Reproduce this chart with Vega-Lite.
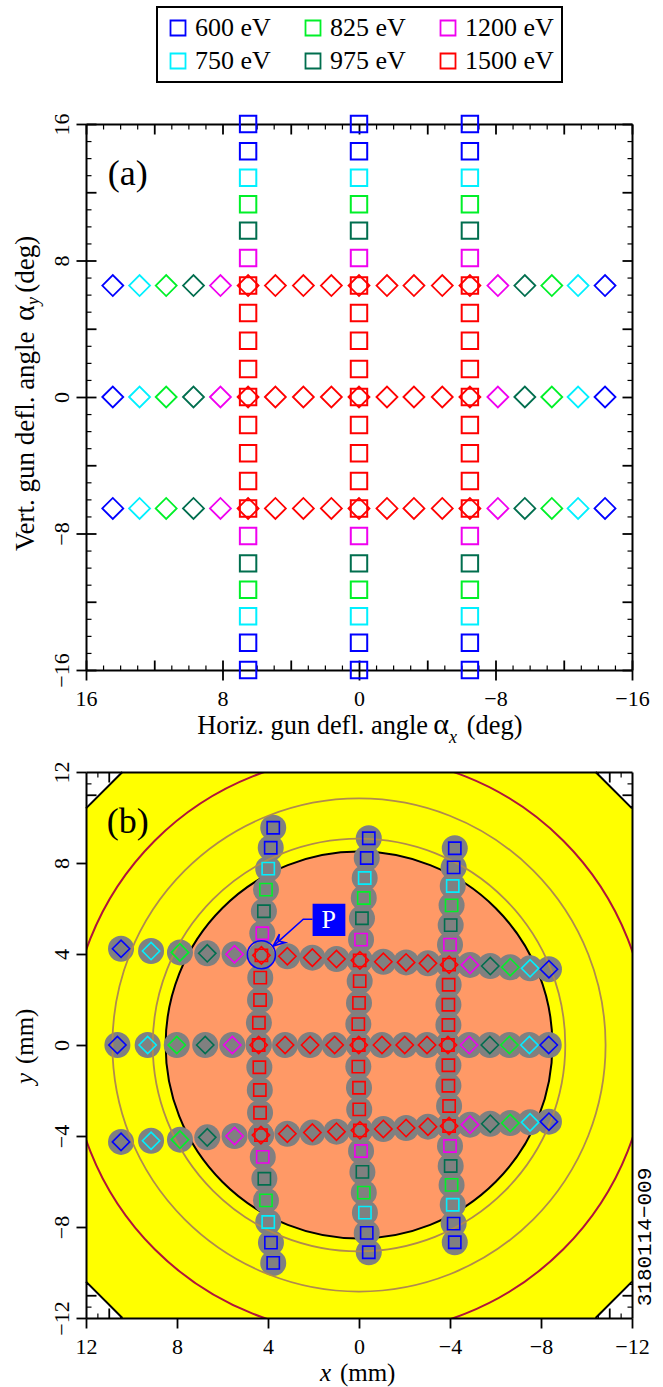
{"$schema":"https://vega.github.io/schema/vega-lite/v6.json","background":"white","padding":{"left":9,"top":6,"right":28,"bottom":4},"bounds":"flush","spacing":102,
"config":{"view":{"stroke":null},"legend":{"strokeWidth":2},"axis":{"labelFont":"Liberation Serif","labelFontSize":22,"labelColor":"black","tickColor":"black","domainColor":"black","grid":false,"title":null,"labelOverlap":false,"labelFlush":false,"labelBound":false,"domainWidth":2,"tickWidth":1.8,"tickRound":false},"text":{"font":"Liberation Serif","color":"black"}},
"datasets":{
"a":[
{"x":6.5,"y":16,"eV":"600 eV","m":"s"},{"x":6.5,"y":14.4,"eV":"600 eV","m":"s"},{"x":6.5,"y":12.85,"eV":"750 eV","m":"s"},{"x":6.5,"y":11.3,"eV":"825 eV","m":"s"},{"x":6.5,"y":9.75,"eV":"975 eV","m":"s"},{"x":6.5,"y":8.15,"eV":"1200 eV","m":"s"},{"x":6.5,"y":6.53,"eV":"1500 eV","m":"s"},{"x":6.5,"y":4.92,"eV":"1500 eV","m":"s"},{"x":6.5,"y":3.3,"eV":"1500 eV","m":"s"},{"x":6.5,"y":1.64,"eV":"1500 eV","m":"s"},{"x":6.5,"y":0,"eV":"1500 eV","m":"s"},{"x":6.5,"y":-1.64,"eV":"1500 eV","m":"s"},{"x":6.5,"y":-3.3,"eV":"1500 eV","m":"s"},{"x":6.5,"y":-4.92,"eV":"1500 eV","m":"s"},{"x":6.5,"y":-6.53,"eV":"1500 eV","m":"s"},{"x":6.5,"y":-8.15,"eV":"1200 eV","m":"s"},{"x":6.5,"y":-9.75,"eV":"975 eV","m":"s"},{"x":6.5,"y":-11.3,"eV":"825 eV","m":"s"},{"x":6.5,"y":-12.85,"eV":"750 eV","m":"s"},{"x":6.5,"y":-14.4,"eV":"600 eV","m":"s"},{"x":6.5,"y":-16,"eV":"600 eV","m":"s"},
{"x":0,"y":16,"eV":"600 eV","m":"s"},{"x":0,"y":14.4,"eV":"600 eV","m":"s"},{"x":0,"y":12.85,"eV":"750 eV","m":"s"},{"x":0,"y":11.3,"eV":"825 eV","m":"s"},{"x":0,"y":9.75,"eV":"975 eV","m":"s"},{"x":0,"y":8.15,"eV":"1200 eV","m":"s"},{"x":0,"y":6.53,"eV":"1500 eV","m":"s"},{"x":0,"y":4.92,"eV":"1500 eV","m":"s"},{"x":0,"y":3.3,"eV":"1500 eV","m":"s"},{"x":0,"y":1.64,"eV":"1500 eV","m":"s"},{"x":0,"y":0,"eV":"1500 eV","m":"s"},{"x":0,"y":-1.64,"eV":"1500 eV","m":"s"},{"x":0,"y":-3.3,"eV":"1500 eV","m":"s"},{"x":0,"y":-4.92,"eV":"1500 eV","m":"s"},{"x":0,"y":-6.53,"eV":"1500 eV","m":"s"},{"x":0,"y":-8.15,"eV":"1200 eV","m":"s"},{"x":0,"y":-9.75,"eV":"975 eV","m":"s"},{"x":0,"y":-11.3,"eV":"825 eV","m":"s"},{"x":0,"y":-12.85,"eV":"750 eV","m":"s"},{"x":0,"y":-14.4,"eV":"600 eV","m":"s"},{"x":0,"y":-16,"eV":"600 eV","m":"s"},
{"x":-6.5,"y":16,"eV":"600 eV","m":"s"},{"x":-6.5,"y":14.4,"eV":"600 eV","m":"s"},{"x":-6.5,"y":12.85,"eV":"750 eV","m":"s"},{"x":-6.5,"y":11.3,"eV":"825 eV","m":"s"},{"x":-6.5,"y":9.75,"eV":"975 eV","m":"s"},{"x":-6.5,"y":8.15,"eV":"1200 eV","m":"s"},{"x":-6.5,"y":6.53,"eV":"1500 eV","m":"s"},{"x":-6.5,"y":4.92,"eV":"1500 eV","m":"s"},{"x":-6.5,"y":3.3,"eV":"1500 eV","m":"s"},{"x":-6.5,"y":1.64,"eV":"1500 eV","m":"s"},{"x":-6.5,"y":0,"eV":"1500 eV","m":"s"},{"x":-6.5,"y":-1.64,"eV":"1500 eV","m":"s"},{"x":-6.5,"y":-3.3,"eV":"1500 eV","m":"s"},{"x":-6.5,"y":-4.92,"eV":"1500 eV","m":"s"},{"x":-6.5,"y":-6.53,"eV":"1500 eV","m":"s"},{"x":-6.5,"y":-8.15,"eV":"1200 eV","m":"s"},{"x":-6.5,"y":-9.75,"eV":"975 eV","m":"s"},{"x":-6.5,"y":-11.3,"eV":"825 eV","m":"s"},{"x":-6.5,"y":-12.85,"eV":"750 eV","m":"s"},{"x":-6.5,"y":-14.4,"eV":"600 eV","m":"s"},{"x":-6.5,"y":-16,"eV":"600 eV","m":"s"},
{"x":14.43,"y":6.53,"eV":"600 eV","m":"d"},{"x":12.86,"y":6.53,"eV":"750 eV","m":"d"},{"x":11.3,"y":6.53,"eV":"825 eV","m":"d"},{"x":9.7,"y":6.53,"eV":"975 eV","m":"d"},{"x":8.12,"y":6.53,"eV":"1200 eV","m":"d"},{"x":6.5,"y":6.53,"eV":"1500 eV","m":"d"},{"x":4.9,"y":6.53,"eV":"1500 eV","m":"d"},{"x":3.26,"y":6.53,"eV":"1500 eV","m":"d"},{"x":1.62,"y":6.53,"eV":"1500 eV","m":"d"},{"x":0,"y":6.53,"eV":"1500 eV","m":"d"},{"x":-1.64,"y":6.53,"eV":"1500 eV","m":"d"},{"x":-3.22,"y":6.53,"eV":"1500 eV","m":"d"},{"x":-4.88,"y":6.53,"eV":"1500 eV","m":"d"},{"x":-6.5,"y":6.53,"eV":"1500 eV","m":"d"},{"x":-8.14,"y":6.53,"eV":"1200 eV","m":"d"},{"x":-9.72,"y":6.53,"eV":"975 eV","m":"d"},{"x":-11.3,"y":6.53,"eV":"825 eV","m":"d"},{"x":-12.84,"y":6.53,"eV":"750 eV","m":"d"},{"x":-14.42,"y":6.53,"eV":"600 eV","m":"d"},
{"x":14.43,"y":0,"eV":"600 eV","m":"d"},{"x":12.86,"y":0,"eV":"750 eV","m":"d"},{"x":11.3,"y":0,"eV":"825 eV","m":"d"},{"x":9.7,"y":0,"eV":"975 eV","m":"d"},{"x":8.12,"y":0,"eV":"1200 eV","m":"d"},{"x":6.5,"y":0,"eV":"1500 eV","m":"d"},{"x":4.9,"y":0,"eV":"1500 eV","m":"d"},{"x":3.26,"y":0,"eV":"1500 eV","m":"d"},{"x":1.62,"y":0,"eV":"1500 eV","m":"d"},{"x":0,"y":0,"eV":"1500 eV","m":"d"},{"x":-1.64,"y":0,"eV":"1500 eV","m":"d"},{"x":-3.22,"y":0,"eV":"1500 eV","m":"d"},{"x":-4.88,"y":0,"eV":"1500 eV","m":"d"},{"x":-6.5,"y":0,"eV":"1500 eV","m":"d"},{"x":-8.14,"y":0,"eV":"1200 eV","m":"d"},{"x":-9.72,"y":0,"eV":"975 eV","m":"d"},{"x":-11.3,"y":0,"eV":"825 eV","m":"d"},{"x":-12.84,"y":0,"eV":"750 eV","m":"d"},{"x":-14.42,"y":0,"eV":"600 eV","m":"d"},
{"x":14.43,"y":-6.53,"eV":"600 eV","m":"d"},{"x":12.86,"y":-6.53,"eV":"750 eV","m":"d"},{"x":11.3,"y":-6.53,"eV":"825 eV","m":"d"},{"x":9.7,"y":-6.53,"eV":"975 eV","m":"d"},{"x":8.12,"y":-6.53,"eV":"1200 eV","m":"d"},{"x":6.5,"y":-6.53,"eV":"1500 eV","m":"d"},{"x":4.9,"y":-6.53,"eV":"1500 eV","m":"d"},{"x":3.26,"y":-6.53,"eV":"1500 eV","m":"d"},{"x":1.62,"y":-6.53,"eV":"1500 eV","m":"d"},{"x":0,"y":-6.53,"eV":"1500 eV","m":"d"},{"x":-1.64,"y":-6.53,"eV":"1500 eV","m":"d"},{"x":-3.22,"y":-6.53,"eV":"1500 eV","m":"d"},{"x":-4.88,"y":-6.53,"eV":"1500 eV","m":"d"},{"x":-6.5,"y":-6.53,"eV":"1500 eV","m":"d"},{"x":-8.14,"y":-6.53,"eV":"1200 eV","m":"d"},{"x":-9.72,"y":-6.53,"eV":"975 eV","m":"d"},{"x":-11.3,"y":-6.53,"eV":"825 eV","m":"d"},{"x":-12.84,"y":-6.53,"eV":"750 eV","m":"d"},{"x":-14.42,"y":-6.53,"eV":"600 eV","m":"d"}
],
"b":[
{"x":3.77,"y":9.55,"eV":"600 eV","m":"s"},{"x":3.88,"y":8.67,"eV":"600 eV","m":"s"},{"x":3.99,"y":7.75,"eV":"750 eV","m":"s"},{"x":4.09,"y":6.83,"eV":"825 eV","m":"s"},{"x":4.18,"y":5.88,"eV":"975 eV","m":"s"},{"x":4.25,"y":4.91,"eV":"1200 eV","m":"s"},{"x":4.29,"y":3.94,"eV":"1500 eV","m":"s"},{"x":4.34,"y":2.96,"eV":"1500 eV","m":"s"},{"x":4.35,"y":1.98,"eV":"1500 eV","m":"s"},{"x":4.4,"y":0.98,"eV":"1500 eV","m":"s"},{"x":4.41,"y":0,"eV":"1500 eV","m":"s"},{"x":4.38,"y":-0.98,"eV":"1500 eV","m":"s"},{"x":4.36,"y":-1.98,"eV":"1500 eV","m":"s"},{"x":4.35,"y":-2.98,"eV":"1500 eV","m":"s"},{"x":4.31,"y":-3.96,"eV":"1500 eV","m":"s"},{"x":4.23,"y":-4.92,"eV":"1200 eV","m":"s"},{"x":4.16,"y":-5.88,"eV":"975 eV","m":"s"},{"x":4.09,"y":-6.83,"eV":"825 eV","m":"s"},{"x":3.99,"y":-7.78,"eV":"750 eV","m":"s"},{"x":3.87,"y":-8.69,"eV":"600 eV","m":"s"},{"x":3.77,"y":-9.58,"eV":"600 eV","m":"s"},
{"x":-0.43,"y":9.09,"eV":"600 eV","m":"s"},{"x":-0.34,"y":8.22,"eV":"600 eV","m":"s"},{"x":-0.25,"y":7.34,"eV":"750 eV","m":"s"},{"x":-0.21,"y":6.46,"eV":"825 eV","m":"s"},{"x":-0.13,"y":5.57,"eV":"975 eV","m":"s"},{"x":-0.09,"y":4.63,"eV":"1200 eV","m":"s"},{"x":-0.03,"y":3.72,"eV":"1500 eV","m":"s"},{"x":-0.03,"y":2.81,"eV":"1500 eV","m":"s"},{"x":0,"y":1.85,"eV":"1500 eV","m":"s"},{"x":0.03,"y":0.92,"eV":"1500 eV","m":"s"},{"x":0.01,"y":0,"eV":"1500 eV","m":"s"},{"x":0.03,"y":-0.95,"eV":"1500 eV","m":"s"},{"x":0,"y":-1.88,"eV":"1500 eV","m":"s"},{"x":-0.01,"y":-2.83,"eV":"1500 eV","m":"s"},{"x":-0.04,"y":-3.75,"eV":"1500 eV","m":"s"},{"x":-0.09,"y":-4.66,"eV":"1200 eV","m":"s"},{"x":-0.15,"y":-5.58,"eV":"975 eV","m":"s"},{"x":-0.21,"y":-6.49,"eV":"825 eV","m":"s"},{"x":-0.26,"y":-7.37,"eV":"750 eV","m":"s"},{"x":-0.34,"y":-8.26,"eV":"600 eV","m":"s"},{"x":-0.43,"y":-9.11,"eV":"600 eV","m":"s"},
{"x":-4.21,"y":8.65,"eV":"600 eV","m":"s"},{"x":-4.16,"y":7.81,"eV":"600 eV","m":"s"},{"x":-4.12,"y":6.99,"eV":"750 eV","m":"s"},{"x":-4.07,"y":6.14,"eV":"825 eV","m":"s"},{"x":-4.03,"y":5.27,"eV":"975 eV","m":"s"},{"x":-4,"y":4.41,"eV":"1200 eV","m":"s"},{"x":-3.96,"y":3.53,"eV":"1500 eV","m":"s"},{"x":-3.94,"y":2.65,"eV":"1500 eV","m":"s"},{"x":-3.93,"y":1.77,"eV":"1500 eV","m":"s"},{"x":-3.93,"y":0.88,"eV":"1500 eV","m":"s"},{"x":-3.91,"y":0,"eV":"1500 eV","m":"s"},{"x":-3.93,"y":-0.89,"eV":"1500 eV","m":"s"},{"x":-3.93,"y":-1.79,"eV":"1500 eV","m":"s"},{"x":-3.96,"y":-2.68,"eV":"1500 eV","m":"s"},{"x":-3.96,"y":-3.56,"eV":"1500 eV","m":"s"},{"x":-4,"y":-4.44,"eV":"1200 eV","m":"s"},{"x":-4.03,"y":-5.32,"eV":"975 eV","m":"s"},{"x":-4.07,"y":-6.15,"eV":"825 eV","m":"s"},{"x":-4.12,"y":-7.02,"eV":"750 eV","m":"s"},{"x":-4.16,"y":-7.85,"eV":"600 eV","m":"s"},{"x":-4.21,"y":-8.67,"eV":"600 eV","m":"s"},
{"x":10.46,"y":4.23,"eV":"600 eV","m":"d"},{"x":9.14,"y":4.13,"eV":"750 eV","m":"d"},{"x":7.87,"y":4.07,"eV":"825 eV","m":"d"},{"x":6.67,"y":4.03,"eV":"975 eV","m":"d"},{"x":5.47,"y":3.99,"eV":"1200 eV","m":"d"},{"x":4.29,"y":3.94,"eV":"1500 eV","m":"d"},{"x":3.15,"y":3.9,"eV":"1500 eV","m":"d"},{"x":2.05,"y":3.84,"eV":"1500 eV","m":"d"},{"x":0.99,"y":3.78,"eV":"1500 eV","m":"d"},{"x":-0.04,"y":3.72,"eV":"1500 eV","m":"d"},{"x":-1.07,"y":3.66,"eV":"1500 eV","m":"d"},{"x":-2.07,"y":3.63,"eV":"1500 eV","m":"d"},{"x":-3.03,"y":3.59,"eV":"1500 eV","m":"d"},{"x":-3.96,"y":3.53,"eV":"1500 eV","m":"d"},{"x":-4.88,"y":3.52,"eV":"1200 eV","m":"d"},{"x":-5.77,"y":3.47,"eV":"975 eV","m":"d"},{"x":-6.65,"y":3.42,"eV":"825 eV","m":"d"},{"x":-7.52,"y":3.37,"eV":"750 eV","m":"d"},{"x":-8.35,"y":3.33,"eV":"600 eV","m":"d"},
{"x":10.62,"y":0,"eV":"600 eV","m":"d"},{"x":9.29,"y":0,"eV":"750 eV","m":"d"},{"x":8.01,"y":0,"eV":"825 eV","m":"d"},{"x":6.76,"y":0,"eV":"975 eV","m":"d"},{"x":5.57,"y":0,"eV":"1200 eV","m":"d"},{"x":4.41,"y":0,"eV":"1500 eV","m":"d"},{"x":3.25,"y":0,"eV":"1500 eV","m":"d"},{"x":2.15,"y":0,"eV":"1500 eV","m":"d"},{"x":1.07,"y":0,"eV":"1500 eV","m":"d"},{"x":0.01,"y":0,"eV":"1500 eV","m":"d"},{"x":-1.01,"y":0,"eV":"1500 eV","m":"d"},{"x":-2.01,"y":0,"eV":"1500 eV","m":"d"},{"x":-2.99,"y":0,"eV":"1500 eV","m":"d"},{"x":-3.91,"y":0,"eV":"1500 eV","m":"d"},{"x":-4.84,"y":0,"eV":"1200 eV","m":"d"},{"x":-5.75,"y":0,"eV":"975 eV","m":"d"},{"x":-6.61,"y":0,"eV":"825 eV","m":"d"},{"x":-7.49,"y":0,"eV":"750 eV","m":"d"},{"x":-8.34,"y":0,"eV":"600 eV","m":"d"},
{"x":10.46,"y":-4.26,"eV":"600 eV","m":"d"},{"x":9.14,"y":-4.21,"eV":"750 eV","m":"d"},{"x":7.87,"y":-4.16,"eV":"825 eV","m":"d"},{"x":6.67,"y":-4.06,"eV":"975 eV","m":"d"},{"x":5.47,"y":-4,"eV":"1200 eV","m":"d"},{"x":4.31,"y":-3.96,"eV":"1500 eV","m":"d"},{"x":3.15,"y":-3.9,"eV":"1500 eV","m":"d"},{"x":2.05,"y":-3.85,"eV":"1500 eV","m":"d"},{"x":0.99,"y":-3.81,"eV":"1500 eV","m":"d"},{"x":-0.04,"y":-3.75,"eV":"1500 eV","m":"d"},{"x":-1.07,"y":-3.69,"eV":"1500 eV","m":"d"},{"x":-2.07,"y":-3.65,"eV":"1500 eV","m":"d"},{"x":-3.03,"y":-3.59,"eV":"1500 eV","m":"d"},{"x":-3.96,"y":-3.56,"eV":"1500 eV","m":"d"},{"x":-4.88,"y":-3.5,"eV":"1200 eV","m":"d"},{"x":-5.77,"y":-3.46,"eV":"975 eV","m":"d"},{"x":-6.65,"y":-3.43,"eV":"825 eV","m":"d"},{"x":-7.52,"y":-3.4,"eV":"750 eV","m":"d"},{"x":-8.35,"y":-3.37,"eV":"600 eV","m":"d"}
]},
"vconcat":[
{"width":546,"height":546,
"encoding":{"x":{"field":"x","type":"quantitative","scale":{"domain":[16,-16],"nice":false,"zero":false},"axis":null},"y":{"field":"y","type":"quantitative","scale":{"domain":[-16,16],"nice":false,"zero":false},"axis":null}},
"resolve":{"axis":{"x":"independent","y":"independent"}},
"layer":[
{"data":{"values":[{"x":0,"y":0}]},"mark":{"type":"point","opacity":0},"encoding":{
"x":{"field":"x","type":"quantitative","axis":{"orient":"bottom","values":[16,8,0,-8,-16],"tickSize":10,"labelPadding":8,"domain":true}},
"y":{"field":"y","type":"quantitative","axis":{"orient":"left","values":[16,8,0,-8,-16],"tickSize":10,"labelPadding":8,"labelAngle":-90,"labelAlign":"center","labelBaseline":"alphabetic","domain":true}}}},
{"data":{"values":[{"x":0,"y":0}]},"mark":{"type":"point","opacity":0},"encoding":{
"x":{"field":"x","type":"quantitative","axis":{"orient":"bottom","values":[16,12,8,4,0,-4,-8,-12,-16],"tickSize":-10,"labels":false,"domain":false}},
"y":{"field":"y","type":"quantitative","axis":{"orient":"left","values":[16,12,8,4,0,-4,-8,-12,-16],"tickSize":-10,"labels":false,"domain":false}}}},
{"data":{"values":[{"x":0,"y":0}]},"mark":{"type":"point","opacity":0},"encoding":{
"x":{"field":"x","type":"quantitative","axis":{"orient":"top","values":[16,12,8,4,0,-4,-8,-12,-16],"tickSize":-10,"labels":false,"domain":true}},
"y":{"field":"y","type":"quantitative","axis":{"orient":"right","values":[16,12,8,4,0,-4,-8,-12,-16],"tickSize":-10,"labels":false,"domain":true}}}},
{"data":{"values":[{"x":0,"y":0}]},"mark":{"type":"point","opacity":0},"encoding":{
"x":{"field":"x","type":"quantitative","axis":{"orient":"bottom","values":[15,14,13,11,10,9,7,6,5,3,2,1,-1,-2,-3,-5,-6,-7,-9,-10,-11,-13,-14,-15],"tickSize":-5,"tickWidth":1.2,"labels":false,"domain":false}},
"y":{"field":"y","type":"quantitative","axis":{"orient":"left","values":[15,14,13,11,10,9,7,6,5,3,2,1,-1,-2,-3,-5,-6,-7,-9,-10,-11,-13,-14,-15],"tickSize":-5,"tickWidth":1.2,"labels":false,"domain":false}}}},
{"data":{"values":[{"x":0,"y":0}]},"mark":{"type":"point","opacity":0},"encoding":{
"x":{"field":"x","type":"quantitative","axis":{"orient":"top","values":[15,14,13,11,10,9,7,6,5,3,2,1,-1,-2,-3,-5,-6,-7,-9,-10,-11,-13,-14,-15],"tickSize":-5,"tickWidth":1.2,"labels":false,"domain":false}},
"y":{"field":"y","type":"quantitative","axis":{"orient":"right","values":[15,14,13,11,10,9,7,6,5,3,2,1,-1,-2,-3,-5,-6,-7,-9,-10,-11,-13,-14,-15],"tickSize":-5,"tickWidth":1.2,"labels":false,"domain":false}}}},
{"data":{"name":"a"},"transform":[{"filter":"datum.m==='s'"}],"mark":{"type":"point","shape":"square","filled":false,"size":270,"strokeWidth":2,"opacity":1},"encoding":{"stroke":{"field":"eV","type":"nominal","scale":{"domain":["600 eV","750 eV","825 eV","975 eV","1200 eV","1500 eV"],"range":["#0000ff","#00f0ff","#00f028","#006e4e","#f000f0","#ff0000"]},"legend":{"orient":"none","legendX":71,"legendY":-117,"columns":3,"direction":"vertical","title":null,"symbolType":"square","symbolSize":225,"symbolStrokeWidth":1.8,"symbolFillColor":"transparent","labelFont":"Liberation Serif","labelFontSize":26,"labelColor":"black","labelOffset":4,"labelLimit":200,"rowPadding":7,"columnPadding":29,"padding":8,"strokeColor":"black"}}}},
{"data":{"name":"a"},"transform":[{"filter":"datum.m==='d'"}],"mark":{"type":"point","shape":"diamond","filled":false,"size":440,"strokeWidth":1.8,"opacity":1},"encoding":{"stroke":{"field":"eV","type":"nominal","legend":null}}},
{"data":{"values":[{"x":14.73,"y":12.43,"t":"(a)"}]},"mark":{"type":"text","fontSize":36,"align":"left","baseline":"alphabetic"},"encoding":{"text":{"field":"t"}}},
{"data":{"values":[{"x":9.48,"y":-19.75,"t":"Horiz. gun defl. angle"},{"x":-6.32,"y":-19.75,"t":"(deg)"}]},"mark":{"type":"text","fontSize":26.4,"align":"left","baseline":"alphabetic"},"encoding":{"text":{"field":"t"}}},
{"data":{"values":[{"x":-4.35,"y":-19.75,"t":"α"}]},"mark":{"type":"text","fontSize":30,"align":"left","baseline":"alphabetic"},"encoding":{"text":{"field":"t"}}},
{"data":{"values":[{"x":-5.28,"y":-20.26,"t":"x"}]},"mark":{"type":"text","fontSize":18,"fontStyle":"italic","align":"left","baseline":"alphabetic"},"encoding":{"text":{"field":"t"}}},
{"data":{"values":[{"x":19.06,"y":-9.03,"t":"Vert. gun defl. angle"},{"x":19.06,"y":6.11,"t":"(deg)"}]},"mark":{"type":"text","fontSize":27,"angle":270,"align":"left","baseline":"alphabetic"},"encoding":{"text":{"field":"t"}}},
{"data":{"values":[{"x":19.06,"y":4.45,"t":"α"}]},"mark":{"type":"text","fontSize":30,"angle":270,"align":"left","baseline":"alphabetic"},"encoding":{"text":{"field":"t"}}},
{"data":{"values":[{"x":18.77,"y":5.39,"t":"y"}]},"mark":{"type":"text","fontSize":18,"fontStyle":"italic","angle":270,"align":"left","baseline":"alphabetic"},"encoding":{"text":{"field":"t"}}}
]},
{"width":546,"height":546,
"encoding":{"x":{"field":"x","type":"quantitative","scale":{"domain":[12,-12],"nice":false,"zero":false},"axis":null},"y":{"field":"y","type":"quantitative","scale":{"domain":[-12,12],"nice":false,"zero":false},"axis":null}},
"resolve":{"axis":{"x":"independent","y":"independent"}},
"layer":[
{"data":{"values":[{"x":0,"y":0}]},"mark":{"type":"point","opacity":0},"encoding":{
"x":{"field":"x","type":"quantitative","axis":{"orient":"bottom","values":[12,8,4,0,-4,-8,-12],"tickSize":10,"labelPadding":8,"domain":true,"zindex":1}},
"y":{"field":"y","type":"quantitative","axis":{"orient":"left","values":[12,8,4,0,-4,-8,-12],"tickSize":10,"labelPadding":8,"labelAngle":-90,"labelAlign":"center","labelBaseline":"alphabetic","domain":true,"zindex":1}}}},
{"data":{"values":[{"x":0,"y":0}]},"mark":{"type":"point","opacity":0},"encoding":{
"x":{"field":"x","type":"quantitative","axis":{"orient":"top","ticks":false,"labels":false,"domain":true,"zindex":1,"values":[0]}},
"y":{"field":"y","type":"quantitative","axis":{"orient":"right","ticks":false,"labels":false,"domain":true,"zindex":1,"values":[0]}}}},
{"data":{"values":[{"x":0,"y":0}]},"mark":{"type":"point","opacity":0},"encoding":{
"x":{"field":"x","type":"quantitative","axis":{"orient":"bottom","values":[11,-11],"tickSize":-10,"labels":false,"domain":false}},
"y":{"field":"y","type":"quantitative","axis":{"orient":"left","values":[11,-11],"tickSize":-10,"labels":false,"domain":false}}}},
{"data":{"values":[{"x":0,"y":0}]},"mark":{"type":"point","opacity":0},"encoding":{
"x":{"field":"x","type":"quantitative","axis":{"orient":"top","values":[11,-11],"tickSize":-10,"labels":false,"domain":false}},
"y":{"field":"y","type":"quantitative","axis":{"orient":"right","values":[11,-11],"tickSize":-10,"labels":false,"domain":false}}}},
{"data":{"values":[{"x":0,"y":0}]},"mark":{"type":"point","opacity":0},"encoding":{
"x":{"field":"x","type":"quantitative","axis":{"orient":"bottom","values":[11.5,10.5,-10.5,-11.5],"tickSize":-5,"tickWidth":1.2,"labels":false,"domain":false}},
"y":{"field":"y","type":"quantitative","axis":{"orient":"left","values":[11.5,10.5,-10.5,-11.5],"tickSize":-5,"tickWidth":1.2,"labels":false,"domain":false}}}},
{"data":{"values":[{"x":0,"y":0}]},"mark":{"type":"point","opacity":0},"encoding":{
"x":{"field":"x","type":"quantitative","axis":{"orient":"top","values":[11.5,10.5,-10.5,-11.5],"tickSize":-5,"tickWidth":1.2,"labels":false,"domain":false}},
"y":{"field":"y","type":"quantitative","axis":{"orient":"right","values":[11.5,10.5,-10.5,-11.5],"tickSize":-5,"tickWidth":1.2,"labels":false,"domain":false}}}},
{"data":{"values":[{"x":12,"y":10.4,"y2":-10.4},{"x":10.4,"y":12,"y2":-12},{"x":-10.4,"y":12,"y2":-12},{"x":-12,"y":10.4,"y2":-10.4}]},"mark":{"type":"area","fill":"#ffff00","opacity":1},"encoding":{"y2":{"field":"y2"}}},
{"data":{"values":[{"x":12,"y":10.4,"x2":10.4,"y2":12},{"x":-12,"y":10.4,"x2":-10.4,"y2":12},{"x":12,"y":-10.4,"x2":10.4,"y2":-12},{"x":-12,"y":-10.4,"x2":-10.4,"y2":-12}]},"mark":{"type":"rule","color":"black","strokeWidth":2},"encoding":{"x2":{"field":"x2"},"y2":{"field":"y2"}}},
{"data":{"values":[{"x":0,"y":0}]},"mark":{"type":"point","shape":"circle","filled":true,"fill":"#ff9966","stroke":"black","strokeWidth":2,"size":149600,"opacity":1}},
{"data":{"name":"b"},"mark":{"type":"point","shape":"circle","filled":true,"fill":"#808080","stroke":null,"size":676,"opacity":1}},
{"data":{"values":[{"x":0,"y":0}]},"mark":{"type":"point","shape":"circle","filled":false,"stroke":"#b08a4e","strokeWidth":1.8,"size":170200,"opacity":1}},
{"data":{"values":[{"x":0,"y":0}]},"mark":{"type":"point","shape":"circle","filled":false,"stroke":"#b08a4e","strokeWidth":1.8,"size":243200,"opacity":1}},
{"data":{"values":[{"x":0,"y":0}]},"mark":{"type":"point","shape":"circle","filled":false,"stroke":"#b0143c","strokeWidth":2,"size":333900,"opacity":1,"clip":true}},
{"data":{"name":"b"},"transform":[{"filter":"datum.m==='s'"}],"mark":{"type":"point","shape":"square","filled":false,"size":150,"strokeWidth":1.6,"opacity":1},"encoding":{"stroke":{"field":"eV","type":"nominal","legend":null}}},
{"data":{"name":"b"},"transform":[{"filter":"datum.m==='d'"}],"mark":{"type":"point","shape":"diamond","filled":false,"size":300,"strokeWidth":1.6,"opacity":1},"encoding":{"stroke":{"field":"eV","type":"nominal","legend":null}}},
{"data":{"values":[{"x":4.29,"y":3.97}]},"mark":{"type":"point","shape":"circle","filled":false,"stroke":"#0000ff","strokeWidth":1.6,"size":784,"opacity":1}},
{"data":{"values":[{"x":2.04,"y":5.53,"i":1},{"x":2.45,"y":5.53,"i":2},{"x":3.77,"y":4.35,"i":3}]},"mark":{"type":"line","stroke":"#0000ff","strokeWidth":1.6},"encoding":{"order":{"field":"i","type":"quantitative"}}},
{"data":{"values":[{"x":3.55,"y":4.57,"i":1},{"x":3.5,"y":4.87,"i":2},{"x":3.77,"y":4.35,"i":3},{"x":3.25,"y":4.5,"i":4},{"x":3.55,"y":4.57,"i":5}]},"mark":{"type":"line","stroke":"#0000ff","strokeWidth":1.6},"encoding":{"order":{"field":"i","type":"quantitative"}}},
{"data":{"values":[{"x":2.04,"y":6.21,"x2":0.6,"y2":4.79}]},"mark":{"type":"rect","fill":"#0000ff","opacity":1},"encoding":{"x2":{"field":"x2"},"y2":{"field":"y2"}}},
{"data":{"values":[{"x":1.33,"y":5.49,"t":"P"}]},"mark":{"type":"text","fontSize":26,"color":"white","align":"center","baseline":"middle"},"encoding":{"text":{"field":"t"}}},
{"data":{"values":[{"x":11.09,"y":9.33,"t":"(b)"}]},"mark":{"type":"text","fontSize":36,"align":"left","baseline":"alphabetic"},"encoding":{"text":{"field":"t"}}},
{"data":{"values":[{"x":0.84,"y":-14.77,"t":"(mm)"}]},"mark":{"type":"text","fontSize":25,"align":"left","baseline":"alphabetic"},"encoding":{"text":{"field":"t"}}},
{"data":{"values":[{"x":1.71,"y":-14.77,"t":"x"}]},"mark":{"type":"text","fontSize":25,"fontStyle":"italic","align":"left","baseline":"alphabetic"},"encoding":{"text":{"field":"t"}}},
{"data":{"values":[{"x":14.33,"y":-0.84,"t":"(mm)"}]},"mark":{"type":"text","fontSize":25,"angle":270,"align":"left","baseline":"alphabetic"},"encoding":{"text":{"field":"t"}}},
{"data":{"values":[{"x":14.33,"y":-1.71,"t":"y"}]},"mark":{"type":"text","fontSize":25,"fontStyle":"italic","angle":270,"align":"left","baseline":"alphabetic"},"encoding":{"text":{"field":"t"}}},
{"data":{"values":[{"x":-12.57,"y":-8.44,"t":"3180114−009"}]},"mark":{"type":"text","font":"Liberation Mono","fontSize":21,"angle":270,"align":"center","baseline":"middle"},"encoding":{"text":{"field":"t"}}}
]}
]}
